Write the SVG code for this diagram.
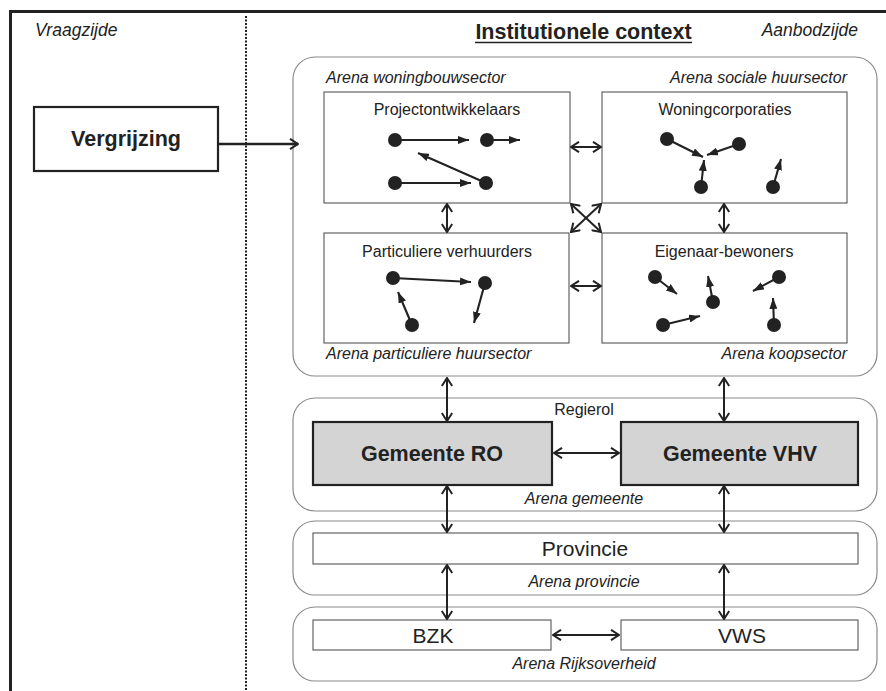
<svg xmlns="http://www.w3.org/2000/svg" width="886" height="691" viewBox="0 0 886 691">
<style>
text{font-family:"Liberation Sans",Arial,sans-serif;fill:#222}
.it{font-style:italic;font-size:16px}
.lbl{font-size:16px}
.big{font-size:21px}
.bold{font-weight:bold;font-size:21.5px}
.arena{fill:#fff;stroke:#8a8a8a;stroke-width:1.2}
.box{fill:#fff;stroke:#555;stroke-width:1.1}
.gbox{fill:#d4d4d4;stroke:#222;stroke-width:2.2}
.conn{stroke:#222;stroke-width:2;fill:none;marker-start:url(#chev);marker-end:url(#chev)}
.one{stroke:#222;stroke-width:2.6;fill:none;marker-end:url(#chev)}
.sm{stroke:#222;stroke-width:2.1;fill:none;marker-end:url(#tri)}
.dot{fill:#222}
</style>
<defs>
<marker id="chev" viewBox="0 0 10 12" refX="9" refY="6" markerWidth="10" markerHeight="12" markerUnits="userSpaceOnUse" orient="auto-start-reverse">
<path d="M1,0.8 L9,6 L1,11.2" fill="none" stroke="#222" stroke-width="2"/>
</marker>
<marker id="tri" viewBox="0 0 11 8" refX="11" refY="4" markerWidth="11" markerHeight="8" markerUnits="userSpaceOnUse" orient="auto">
<path d="M0,0 L11,4 L0,8 z" fill="#222"/>
</marker>
</defs>
<rect width="886" height="691" fill="#fff"/>
<g id="frame">
<line x1="10" y1="11.5" x2="886" y2="11.5" stroke="#222" stroke-width="3"/>
<line x1="10.5" y1="10" x2="10.5" y2="691" stroke="#222" stroke-width="3"/>
<line x1="246" y1="16" x2="246" y2="691" stroke="#222" stroke-width="2" stroke-dasharray="2,1.5"/>
<text class="it" x="35" y="36" style="font-size:17.5px">Vraagzijde</text>
<text class="it" x="858" y="36" text-anchor="end" style="font-size:17.5px">Aanbodzijde</text>
<text x="583.5" y="39" text-anchor="middle" style="font-weight:bold;font-size:21.5px">Institutionele context</text>
<line x1="475" y1="42.5" x2="692" y2="42.5" stroke="#222" stroke-width="1.6"/>
</g>
<g id="arenas">
<rect class="arena" x="293" y="57" width="584" height="319" rx="22"/>
<rect class="arena" x="293" y="398" width="584" height="113" rx="22"/>
<rect class="arena" x="293" y="521" width="584" height="74" rx="22"/>
<rect class="arena" x="293" y="607" width="584" height="74" rx="22"/>
<text class="it" x="326" y="83">Arena woningbouwsector</text>
<text class="it" x="847" y="83" text-anchor="end">Arena sociale huursector</text>
<text class="it" x="326" y="359">Arena particuliere huursector</text>
<text class="it" x="847" y="359" text-anchor="end">Arena koopsector</text>
<text class="lbl" x="584" y="415" text-anchor="middle">Regierol</text>
<text class="it" x="584" y="504" text-anchor="middle">Arena gemeente</text>
<text class="it" x="584" y="587" text-anchor="middle">Arena provincie</text>
<text class="it" x="584" y="669" text-anchor="middle">Arena Rijksoverheid</text>
</g>
<g id="vergrijzing">
<rect x="34" y="107" width="184" height="64" fill="#fff" stroke="#222" stroke-width="2.2"/>
<text class="bold" x="126" y="146" text-anchor="middle">Vergrijzing</text>
</g>
<g id="projectontwikkelaars">
<rect class="box" x="324" y="92" width="246" height="111"/>
<text class="lbl" x="447" y="115" text-anchor="middle">Projectontwikkelaars</text>
<circle class="dot" cx="395" cy="140" r="7"/>
<circle class="dot" cx="487" cy="140" r="7"/>
<circle class="dot" cx="395" cy="183" r="7"/>
<circle class="dot" cx="486" cy="183" r="7"/>
<line class="sm" x1="395" y1="140" x2="469" y2="140"/>
<line class="sm" x1="487" y1="140" x2="520" y2="140"/>
<line class="sm" x1="395" y1="183" x2="471" y2="183"/>
<line class="sm" x1="486" y1="183" x2="418" y2="153"/>
</g>
<g id="woningcorporaties">
<rect class="box" x="602" y="92" width="245" height="111"/>
<text class="lbl" x="725" y="115" text-anchor="middle">Woningcorporaties</text>
<circle class="dot" cx="667" cy="139" r="7"/>
<circle class="dot" cx="739" cy="144" r="7"/>
<circle class="dot" cx="701" cy="187" r="7"/>
<circle class="dot" cx="773" cy="187" r="7"/>
<line class="sm" x1="667" y1="139" x2="703" y2="157"/>
<line class="sm" x1="739" y1="144" x2="707" y2="155"/>
<line class="sm" x1="701" y1="187" x2="704" y2="160"/>
<line class="sm" x1="773" y1="187" x2="781" y2="159"/>
</g>
<g id="particuliere-verhuurders">
<rect class="box" x="324" y="233" width="245" height="110"/>
<text class="lbl" x="447" y="257" text-anchor="middle">Particuliere verhuurders</text>
<circle class="dot" cx="393" cy="278" r="7"/>
<circle class="dot" cx="485" cy="283" r="7"/>
<circle class="dot" cx="412" cy="325" r="7"/>
<line class="sm" x1="393" y1="278" x2="471" y2="282"/>
<line class="sm" x1="485" y1="283" x2="474" y2="323"/>
<line class="sm" x1="412" y1="325" x2="398" y2="292"/>
</g>
<g id="eigenaar-bewoners">
<rect class="box" x="602" y="233" width="245" height="110"/>
<text class="lbl" x="724" y="257" text-anchor="middle">Eigenaar-bewoners</text>
<circle class="dot" cx="655" cy="277" r="7"/>
<circle class="dot" cx="713" cy="302" r="7"/>
<circle class="dot" cx="779" cy="277" r="7"/>
<circle class="dot" cx="663" cy="325" r="7"/>
<circle class="dot" cx="774" cy="325" r="7"/>
<line class="sm" x1="655" y1="277" x2="677" y2="294"/>
<line class="sm" x1="713" y1="302" x2="708" y2="276"/>
<line class="sm" x1="779" y1="277" x2="753" y2="291"/>
<line class="sm" x1="663" y1="325" x2="700" y2="316"/>
<line class="sm" x1="774" y1="325" x2="773" y2="298"/>
</g>
<g id="gemeente-ro">
<rect class="gbox" x="313" y="422" width="239" height="63"/>
<text class="bold" x="432" y="461" text-anchor="middle">Gemeente RO</text>
</g>
<g id="gemeente-vhv">
<rect class="gbox" x="621" y="422" width="237" height="63"/>
<text class="bold" x="740" y="461" text-anchor="middle">Gemeente VHV</text>
</g>
<g id="provincie">
<rect class="box" x="313" y="533" width="545" height="31"/>
<text class="big" x="585" y="556" text-anchor="middle">Provincie</text>
</g>
<g id="bzk">
<rect class="box" x="313" y="620" width="238" height="30"/>
<text class="big" x="433" y="643" text-anchor="middle">BZK</text>
</g>
<g id="vws">
<rect class="box" x="621" y="620" width="237" height="30"/>
<text class="big" x="742" y="643" text-anchor="middle">VWS</text>
</g>
<g id="connectors">
<line class="one" x1="219" y1="144" x2="298" y2="144"/>
<line class="conn" x1="571" y1="147" x2="601" y2="147"/>
<line class="conn" x1="571" y1="286" x2="601" y2="286"/>
<line class="conn" x1="447" y1="204" x2="447" y2="232"/>
<line class="conn" x1="724" y1="204" x2="724" y2="232"/>
<line class="conn" x1="571" y1="204" x2="601" y2="232"/>
<line class="conn" x1="601" y1="204" x2="571" y2="232"/>
<line class="conn" x1="447" y1="378" x2="447" y2="421"/>
<line class="conn" x1="724" y1="378" x2="724" y2="421"/>
<line class="conn" x1="554" y1="453" x2="619" y2="453"/>
<line class="conn" x1="447" y1="486" x2="447" y2="532"/>
<line class="conn" x1="724" y1="486" x2="724" y2="532"/>
<line class="conn" x1="447" y1="565" x2="447" y2="619"/>
<line class="conn" x1="724" y1="565" x2="724" y2="619"/>
<line class="conn" x1="553" y1="635" x2="619" y2="635"/>
</g>
</svg>
